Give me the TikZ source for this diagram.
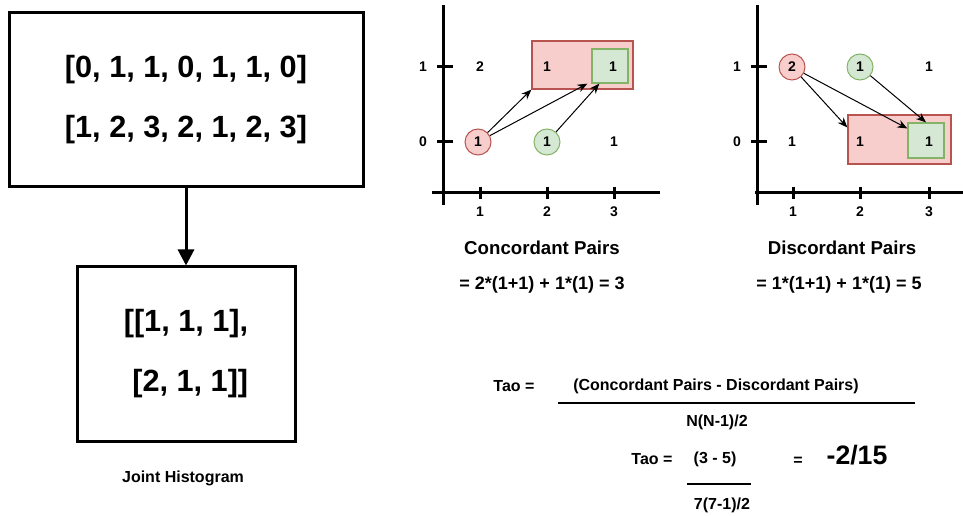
\documentclass[tikz,border=0pt]{standalone}
\usepackage{fontspec}
\setmainfont{Liberation Sans}
\usetikzlibrary{arrows.meta}
\definecolor{redfill}{HTML}{F8CECC}\definecolor{redline}{HTML}{B85450}
\definecolor{greenfill}{HTML}{D5E8D4}\definecolor{greenline}{HTML}{82B366}
\begin{document}
\begin{tikzpicture}[x=.75pt,y=-.75pt,line width=.75pt,>={Stealth[length=7.5pt,width=6pt]},
  bigbox/.style={draw,line width=2.25pt,align=center,font=\fontsize{23}{45}\selectfont\bfseries},
  axis/.style={line width=2.25pt},
  tick/.style={font=\fontsize{10.5}{12}\selectfont\bfseries,inner sep=0pt},
  val/.style={font=\fontsize{10.5}{12}\selectfont\bfseries,inner sep=0pt},
  redc/.style={val,circle,draw=redline,fill=redfill,minimum size=19.5pt},
  greenc/.style={val,circle,draw=greenline,fill=greenfill,minimum size=19.5pt},
  redbox/.style={draw=redline,fill=redfill,line width=1pt},
  greenbox/.style={draw=greenline,fill=greenfill,line width=1pt},
  title/.style={font=\fontsize{14}{16}\selectfont\bfseries},
  eq/.style={font=\fontsize{13.5}{16}\selectfont\bfseries},
  frm/.style={font=\fontsize{12}{14}\selectfont\bfseries}]
\useasboundingbox (0,0) rectangle (963,516);
\node[bigbox,minimum width=265.5pt,minimum height=130.5pt] (inbox) at (186,100) {{[}0, 1, 1, 0, 1, 1, 0]\\{[}1, 2, 3, 2, 1, 2, 3]};
\node[bigbox,minimum width=163.5pt,minimum height=130.5pt] (histbox) at (186,354) {{[[}1, 1, 1],\\\ {[}2, 1, 1]]};
\draw[line width=2.25pt,-{Triangle[length=12pt,width=12pt]}] (inbox) -- (histbox);
\node[font=\fontsize{12}{14}\selectfont\bfseries] (histlbl) at (183,478) {Joint Histogram};
\draw[axis] (443,5) -- (443,205); \draw[axis] (432,193) -- (660,193);
\foreach \y/\lab in {67/1,142/0}{\draw[axis] (437,\y) -- (453,\y); \node[tick] (cy\lab) at (423,\y) {\lab};}
\foreach \x/\lab in {480/1,547/2,614/3}{\draw[axis] (\x,187) -- (\x,199); \node[tick] (cx\lab) at (\x,212) {\lab};}
\begin{scope}[shift={(314,0)}]
\draw[axis] (443,5) -- (443,205); \draw[axis] (441,193) -- (649,193);
\foreach \y/\lab in {67/1,142/0}{\draw[axis] (437,\y) -- (453,\y); \node[tick] (dy\lab) at (423,\y) {\lab};}
\foreach \x/\lab in {479/1,546/2,615/3}{\draw[axis] (\x,187) -- (\x,199); \node[tick] (dx\lab) at (\x,212) {\lab};}
\end{scope}
\node[redbox,minimum width=75.75pt,minimum height=36pt] (cpairs) at (582.5,65) {};
\node[greenbox,minimum width=27pt,minimum height=25.5pt] (csq) at (610,66) {};
\node[val] (c21) at (480,67) {2}; \node[val] (c22) at (547,67) {1}; \node[val] (c23) at (613,67) {1};
\node[redc] (c11) at (478,142) {1}; \node[greenc] (c12) at (547,142) {1}; \node[val] (c13) at (614,142) {1};
\draw[->] (c11) -- (cpairs.south west); \draw[->] (c11) -- ([xshift=-3pt]csq.south west); \draw[->] (c12) -- ([xshift=6pt]csq.south west);
\node[redbox,minimum width=77.25pt,minimum height=36.75pt] (dpairs) at (899.5,139.5) {};
\node[greenbox,minimum width=27pt,minimum height=26.25pt] (dsq) at (926,140.5) {};
\node[redc] (d21) at (792,67) {2}; \node[greenc] (d22) at (860,67) {1}; \node[val] (d23) at (929,67) {1};
\node[val] (d11) at (792,142) {1}; \node[val] (d12) at (860,142) {1}; \node[val] (d13) at (929,142) {1};
\draw[->] (d21) -- ([yshift=9pt]dpairs.west); \draw[->] (d21) -- ([yshift=9pt]dsq.west); \draw[->] (d22) -- (dsq.north);
\node[title] (ctitle) at (542,248) {Concordant Pairs}; \node[eq] (ceq) at (542,285) {= 2*(1+1) + 1*(1) = 3};
\node[title] (dtitle) at (842,248) {Discordant Pairs}; \node[eq] (deq) at (839,285) {= 1*(1+1) + 1*(1) = 5};
\node[frm] (tao1) at (514,386) {Tao =}; \node[frm] (num) at (716,386) {(Concordant Pairs - Discordant Pairs)};
\coordinate (barl) at (558,403); \coordinate (barr) at (915,403); \draw[line width=1.5pt] (barl) -- (barr);
\node[frm] (den) at (717,422) {N(N-1)/2};
\node[frm] (tao2) at (652,459) {Tao =}; \node[frm] (num2) at (715,459) {(3 - 5)};
\coordinate (sbarl) at (687,484); \coordinate (sbarr) at (751,484); \draw[line width=1.5pt] (sbarl) -- (sbarr);
\node[frm] (den2) at (722,505) {7(7-1)/2};
\node[frm] (eqs) at (798,461) {=}; \node[font=\fontsize{20}{24}\selectfont\bfseries] (res) at (857,455) {-2/15};
\end{tikzpicture}
\end{document}
